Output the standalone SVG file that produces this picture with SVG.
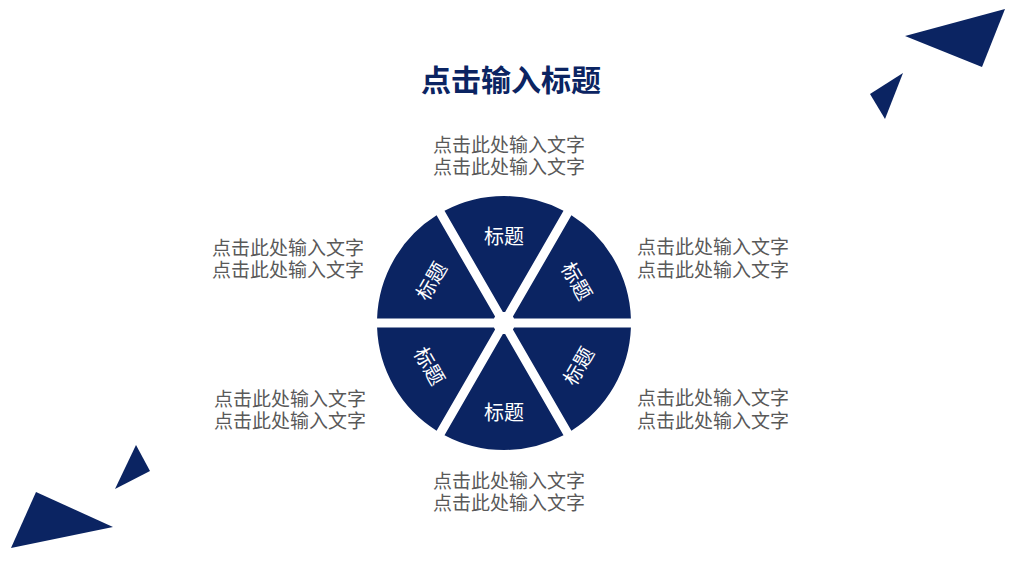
<svg xmlns="http://www.w3.org/2000/svg" xmlns:xlink="http://www.w3.org/1999/xlink" width="1024" height="576" viewBox="0 0 1024 576">
<style>
.navy{fill:#0b2462}
.title{font-family:"Noto Sans CJK SC","Liberation Sans",sans-serif;font-size:30px;font-weight:bold;fill:#0b2462;text-anchor:middle}
.body{font-family:"Noto Sans CJK SC","Liberation Sans",sans-serif;font-size:19px;fill:#595959;text-anchor:middle}
.lbl{font-family:"Noto Sans CJK SC","Liberation Sans",sans-serif;font-size:20px;fill:#ffffff;text-anchor:middle;dominant-baseline:central}
</style>
<defs>
<path id="sector" d="M -1.13,-10.94 L -59.5,-112.2 A 127 127 0 0 1 59.5,-112.2 L 1.13,-10.94 A 11 11 0 0 0 -1.13,-10.94 Z"/>
</defs>
<rect width="1024" height="576" fill="#ffffff"/>
<g id="decor">
<polygon class="navy" points="905,36 1005,9 982,67"/>
<polygon class="navy" points="870,94 903,73 885,119"/>
<polygon class="navy" points="36,492 113,527 11,548"/>
<polygon class="navy" points="136,445 150,471 115,489"/>
</g>
<text id="title" class="title" x="511" y="91">点击输入标题</text>
<g id="wheel" transform="translate(504,323)">
<g id="s-top"><use xlink:href="#sector" class="navy"/><text class="lbl" x="0" y="-88">标题</text></g>
<g id="s-ur"><use xlink:href="#sector" class="navy" transform="rotate(60)"/><text class="lbl" transform="translate(73.6,-42.5) rotate(60)">标题</text></g>
<g id="s-lr"><use xlink:href="#sector" class="navy" transform="rotate(120)"/><text class="lbl" transform="translate(73.6,42.5) rotate(-60)">标题</text></g>
<g id="s-bot"><use xlink:href="#sector" class="navy" transform="rotate(180)"/><text class="lbl" x="0" y="88">标题</text></g>
<g id="s-ll"><use xlink:href="#sector" class="navy" transform="rotate(240)"/><text class="lbl" transform="translate(-73.6,42.5) rotate(60)">标题</text></g>
<g id="s-ul"><use xlink:href="#sector" class="navy" transform="rotate(300)"/><text class="lbl" transform="translate(-73.6,-42.5) rotate(-60)">标题</text></g>
</g>
<text id="t-top" class="body"><tspan x="509" y="152">点击此处输入文字</tspan><tspan x="509" y="174">点击此处输入文字</tspan></text>
<text id="t-ul" class="body"><tspan x="288" y="255">点击此处输入文字</tspan><tspan x="288" y="277">点击此处输入文字</tspan></text>
<text id="t-ll" class="body"><tspan x="290" y="406">点击此处输入文字</tspan><tspan x="290" y="428">点击此处输入文字</tspan></text>
<text id="t-ur" class="body"><tspan x="713" y="254">点击此处输入文字</tspan><tspan x="713" y="277">点击此处输入文字</tspan></text>
<text id="t-lr" class="body"><tspan x="713" y="405">点击此处输入文字</tspan><tspan x="713" y="428">点击此处输入文字</tspan></text>
<text id="t-bot" class="body"><tspan x="509" y="488">点击此处输入文字</tspan><tspan x="509" y="510">点击此处输入文字</tspan></text>
<g id="connectors"/>
</svg>
